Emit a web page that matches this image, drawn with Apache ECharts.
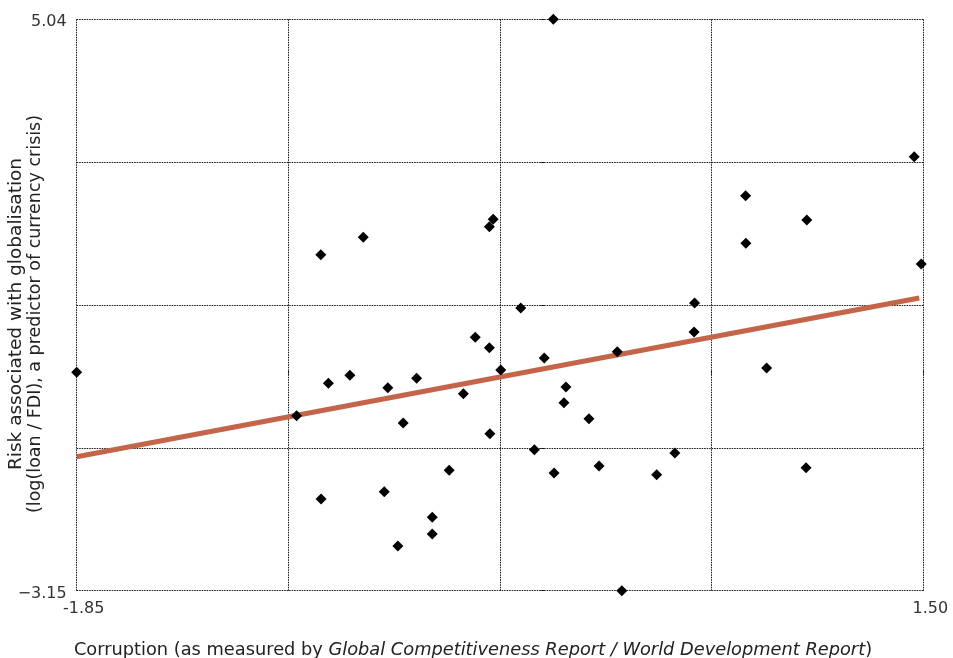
<!DOCTYPE html>
<html>
<head>
<meta charset="utf-8">
<script src="https://cdn.jsdelivr.net/npm/echarts@6/dist/echarts.min.js"></script>
<style>
html,body{margin:0;padding:0;background:#fff;}
#chart{width:953px;height:658px;}
</style>
</head>
<body>
<div id="chart"></div>
<script>
// Corruption index (x) vs. risk associated with globalisation (y)
var corruption = [
  0.036, 1.464, 0.797, -0.202, -0.217, 1.039, -0.716, 0.798, -0.884, 1.492,
  0.595, -0.093, 0.593, -0.273, -0.217, 0.289, 0.000, 0.880, -0.172, -1.850,
  -0.769, -0.505, -0.854, -0.619, 0.086, -0.320, 0.078, -0.980, 0.177, -0.558,
  -0.215, -0.039, 0.517, 0.217, 1.036, -0.376, 0.039, 0.445, -0.633, -0.883,
  -0.443, -0.443, -0.579, 0.307
];
var risk = [
  5.040, 3.071, 2.512, 2.173, 2.067, 2.163, 1.915, 1.829, 1.666, 1.533,
  0.974, 0.902, 0.558, 0.482, 0.333, 0.276, 0.185, 0.042, 0.013, -0.020,
  -0.063, -0.106, -0.177, -0.240, -0.230, -0.326, -0.455, -0.642, -0.685, -0.746,
  -0.900, -1.129, -1.176, -1.363, -1.387, -1.424, -1.463, -1.487, -1.731, -1.836,
  -2.098, -2.337, -2.509, -3.150
];
// fitted regression line end points
var fitX = [-1.85, 1.484];
var fitY = [-1.23, 1.045];

var xMin = -1.85, xMax = 1.50;
var yMin = -3.15, yMax = 5.04;
var xLabels = {'-1.85': '-1.85', '1.5': '1.50'};
var yLabels = {'5.04': '5.04', '-3.15': '\u22123.15'};

var FONT = 'DejaVu Sans';

var points = corruption.map(function (x, i) { return [x, risk[i]]; });
var fitLine = fitX.map(function (x, i) { return [x, fitY[i]]; });

var chart = echarts.init(document.getElementById('chart'), null, {renderer: 'canvas'});

var dotted = {color: '#111', type: [1.5, 1], width: 1};

chart.setOption({
  animation: false,
  backgroundColor: '#ffffff',
  grid: {left: 76.7, right: 29.7, top: 19.3, bottom: 67.3, containLabel: false, outerBoundsMode: 'none'},
  xAxis: {
    type: 'value',
    min: xMin, max: xMax,
    interval: (xMax - xMin) / 4,
    axisLine: {show: false},
    axisTick: {show: true, length: 5, lineStyle: dotted},
    splitLine: {show: true, lineStyle: dotted},
    axisLabel: {
      show: true, margin: 10,
      fontFamily: FONT, fontSize: 16, color: '#333',
      padding: [0, 0, 0, 14],
      formatter: function (v) {
        var k = String(Math.round(v * 100) / 100);
        return xLabels[k] || '';
      }
    },
    name: 'Corruption (as measured by {i|Global Competitiveness Report / World Development Report})',
    nameLocation: 'middle',
    nameGap: 51,
    nameMoveOverlap: false,
    nameTextStyle: {
      fontFamily: FONT, fontSize: 17.8, color: '#222',
      padding: [0, 54, 0, 0],
      rich: {i: {fontFamily: FONT, fontSize: 17.8, fontStyle: 'italic', color: '#222'}}
    }
  },
  yAxis: {
    type: 'value',
    min: yMin, max: yMax,
    interval: (yMax - yMin) / 4,
    axisLine: {show: false},
    axisTick: {show: true, length: 5, lineStyle: dotted},
    splitLine: {show: true, lineStyle: dotted},
    axisLabel: {
      show: true, margin: 10,
      fontFamily: FONT, fontSize: 16, color: '#333',
      formatter: function (v) {
        var k = String(Math.round(v * 100) / 100);
        return yLabels[k] ? '{d|' + yLabels[k] + '}' : '';
      },
      rich: {d: {fontFamily: FONT, fontSize: 16, color: '#333', padding: [6, 0, 0, 0]}}
    },
    name: '{a|Risk associated with globalisation}\n{b|(log(loan / FDI), a predictor of currency crisis)}',
    nameLocation: 'middle',
    nameGap: 32,
    nameMoveOverlap: false,
    nameTextStyle: {
      fontFamily: FONT, fontSize: 17.5, color: '#222', lineHeight: 19,
      padding: [0, 18, 0, 0],
      rich: {
        a: {fontFamily: FONT, fontSize: 18.5, color: '#222', lineHeight: 19},
        b: {fontFamily: FONT, fontSize: 17.5, color: '#222', lineHeight: 19}
      }
    }
  },
  series: [
    {
      type: 'line',
      data: fitLine,
      showSymbol: false,
      lineStyle: {color: '#C4654A', width: 5},
      z: 2,
      silent: true
    },
    {
      type: 'scatter',
      data: points,
      symbol: 'diamond',
      symbolSize: 11,
      itemStyle: {color: '#000', opacity: 1},
      z: 3
    }
  ]
});
</script>
</body>
</html>
